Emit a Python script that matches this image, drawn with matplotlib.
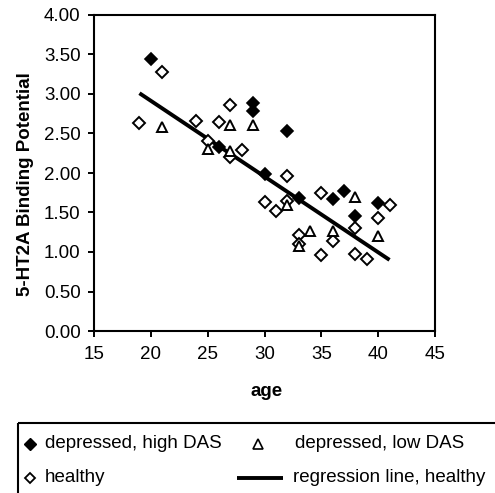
import matplotlib
matplotlib.use("Agg")
import matplotlib.pyplot as plt
from matplotlib.patches import Rectangle

plt.rcParams['font.family'] = ['Liberation Sans', 'DejaVu Sans']

# depressed, high DAS (filled diamonds)
high_age = [20, 26, 29, 29, 30, 32, 33, 36, 37, 38, 40]
high_bp = [3.44, 2.33, 2.89, 2.78, 1.99, 2.53, 1.68, 1.67, 1.77, 1.46, 1.62]
# depressed, low DAS (open triangles)
low_age = [21, 25, 27, 29, 27, 32, 34, 36, 38, 40, 33]
low_bp = [2.58, 2.30, 2.61, 2.61, 2.28, 1.59, 1.27, 1.27, 1.69, 1.20, 1.08]
# healthy (open diamonds)
healthy_age = [19, 21, 24, 25, 26, 27, 27, 28, 30, 31, 32, 32, 33, 33, 35, 35, 36, 38, 38, 39, 40, 41]
healthy_bp = [2.63, 3.28, 2.66, 2.40, 2.64, 2.86, 2.20, 2.29, 1.63, 1.52, 1.96, 1.64, 1.22, 1.10,
              1.75, 0.96, 1.14, 1.31, 0.97, 0.91, 1.43, 1.60]
# regression line, healthy (end points)
reg_age = [19, 41]
reg_bp = [3.01, 0.90]

x_ticks = [15, 20, 25, 30, 35, 40, 45]
y_ticks = [0.0, 0.5, 1.0, 1.5, 2.0, 2.5, 3.0, 3.5, 4.0]

legend_labels = ['depressed, high DAS', 'depressed, low DAS', 'healthy', 'regression line, healthy']

W, H = 495, 493
FS = 13.5
fig = plt.figure(figsize=(W / 100, H / 100), dpi=100)
ax = fig.add_axes([94 / W, 1 - 331 / H, (435 - 94) / W, (331 - 15) / H])

ax.plot(reg_age, reg_bp, color='black', lw=2.8, solid_capstyle='butt', zorder=2)
ax.plot(healthy_age, healthy_bp, linestyle='none', marker='D', ms=6, mfc='white',
        mec='black', mew=1.4, zorder=3)
ax.plot(low_age, low_bp, linestyle='none', marker='^', ms=7.5, mfc='white',
        mec='black', mew=1.4, zorder=3)
ax.plot(high_age, high_bp, linestyle='none', marker='D', ms=6, mfc='black',
        mec='black', mew=1.2, zorder=4)

ax.set_xlim(15, 45)
ax.set_ylim(0, 4)
ax.set_xticks(x_ticks)
ax.set_xticklabels([str(t) for t in x_ticks])
ax.set_yticks(y_ticks)
ax.set_yticklabels([f"{t:.2f}" for t in y_ticks])
ax.tick_params(axis='both', direction='out', length=4.3, width=1.4, labelsize=FS,
               color='black')
ax.tick_params(axis='x', pad=6.5)
ax.tick_params(axis='y', pad=5.3)
for s in ax.spines.values():
    s.set_linewidth(1.5)
ax.set_xlabel('age', fontsize=FS, fontweight='bold', va='center')
ax.xaxis.set_label_coords((266.5 - 94) / 341, (331 - 391) / 316)
ax.set_ylabel('5-HT2A Binding Potential', fontsize=FS, fontweight='bold', va='center')
ax.yaxis.set_label_coords((25.5 - 94) / 341, (331 - 184.5) / 316)

# custom legend in pixel coordinates
lax = fig.add_axes([0, 0, 1, 1], facecolor='none')
lax.set_xlim(0, W)
lax.set_ylim(H, 0)
lax.axis('off')
lax.add_patch(Rectangle((18, 423), 500, 100, fill=False, ec='black', lw=1.5, clip_on=False))
lax.plot([30], [444], marker='D', ms=6, mfc='black', mec='black', linestyle='none')
lax.text(45, 444, legend_labels[0], fontsize=FS, va='center', ha='left')
lax.plot([258], [444], marker='^', ms=7, mfc='white', mec='black', mew=1.2, linestyle='none')
lax.text(295, 444, legend_labels[1], fontsize=FS, va='center', ha='left')
lax.plot([30], [478], marker='D', ms=5.5, mfc='white', mec='black', mew=1.3, linestyle='none')
lax.text(45, 478, legend_labels[2], fontsize=FS, va='center', ha='left')
lax.plot([237, 283], [478, 478], color='black', lw=2.8, solid_capstyle='butt')
lax.text(293, 478, legend_labels[3], fontsize=FS, va='center', ha='left')

fig.savefig('out.png', dpi=100)
